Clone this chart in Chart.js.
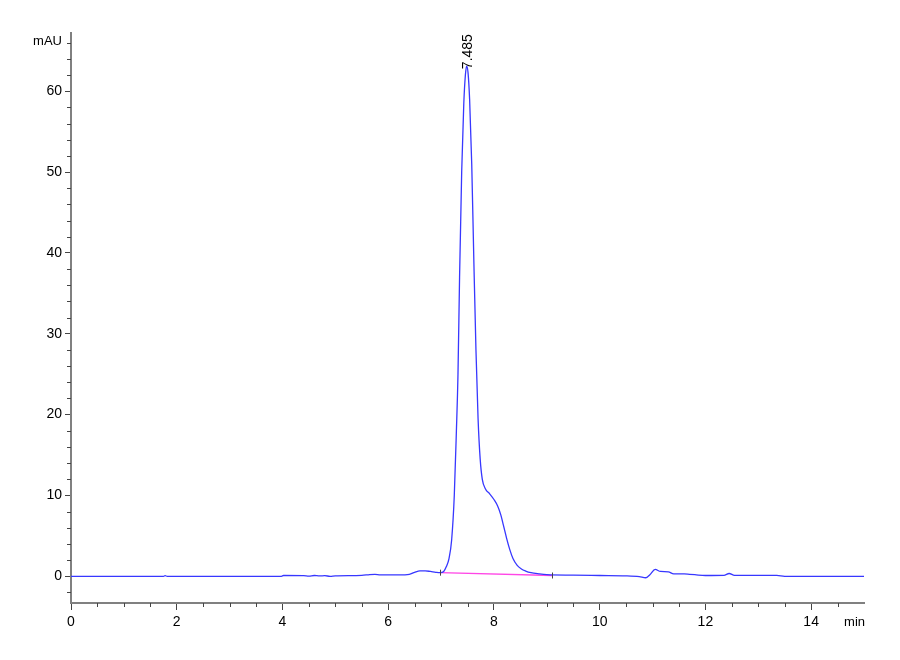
<!DOCTYPE html>
<html>
<head>
<meta charset="utf-8">
<script src="https://cdn.jsdelivr.net/npm/chart.js@4.4.1/dist/chart.umd.min.js"></script>
<style>
  html, body { margin: 0; padding: 0; background: #fff; }
  #wrap { width: 900px; height: 660px; }
</style>
</head>
<body>
<div id="wrap"><canvas id="chromatogram" width="900" height="660"></canvas></div>
<script>
// retention time (min) and signal (mAU)
const times = [
  0, 1.0, 1.75, 1.78, 1.82, 3.0, 3.98, 4.02, 4.4, 4.5, 4.6, 4.7, 4.8, 4.9, 5.0,
  5.5, 5.65, 5.75, 5.85, 6.2, 6.4, 6.5, 6.6, 6.7, 6.8, 6.9, 6.98, 7.05, 7.1, 7.15,
  7.2, 7.25, 7.29, 7.32, 7.35, 7.39, 7.43, 7.46, 7.485, 7.51, 7.54, 7.58, 7.62, 7.66,
  7.70, 7.74, 7.78, 7.84, 7.92, 8.0, 8.07, 8.13, 8.18, 8.24, 8.3, 8.36, 8.44, 8.52,
  8.6, 8.7, 8.85, 9.0, 9.5, 10.0, 10.5, 10.75, 10.87, 10.95, 11.05, 11.15, 11.3, 11.4,
  11.6, 11.7, 11.8, 12.0, 12.35, 12.45, 12.55, 13.0, 13.35, 13.5, 15.0
];
const signal = [
  0, 0, 0, 0.08, 0, 0, 0, 0.1, 0.08, 0.02, 0.1, 0.05, 0.08, 0.0, 0.06,
  0.12, 0.22, 0.25, 0.18, 0.18, 0.25, 0.5, 0.68, 0.68, 0.6, 0.5, 0.45, 0.6, 1.2, 2.2,
  4.5, 10, 18, 25, 37, 50, 58.5, 62, 63.1, 62.3, 59, 51, 39, 28,
  19.5, 14.5, 12, 10.8, 10.2, 9.5, 8.7, 7.6, 6.3, 4.7, 3.3, 2.2, 1.35, 0.9,
  0.65, 0.45, 0.3, 0.2, 0.15, 0.1, 0.05, -0.05, -0.18, 0.2, 0.85, 0.6, 0.55, 0.3,
  0.3, 0.25, 0.2, 0.1, 0.12, 0.35, 0.12, 0.12, 0.12, 0.0, 0.0
];

// integration baseline under the main peak
const baseTimes = [6.98, 9.1];
const baseValues = [0.45, 0.1];

// peak apex annotation
const peakTimes = [7.485];
const peakHeights = [63.1];
const peakLabels = ['7.485'];

const FONT = '"Liberation Sans Narrow", "Liberation Sans", Arial, sans-serif';

const toPoints = (xs, ys) => xs.map((x, i) => ({ x: x, y: ys[i] }));

// short ticks between the labelled ones, plus axis titles and peak label
const extras = {
  id: 'extras',
  afterDraw(chart) {
    const ctx = chart.ctx;
    const xs = chart.scales.x;
    const ys = chart.scales.y;
    const area = chart.chartArea;
    ctx.save();
    ctx.strokeStyle = '#444';
    ctx.lineWidth = 1;
    ctx.beginPath();
    for (let t = 0.5; t < 15; t += 0.5) {
      if (t % 2 === 0) continue;
      const px = Math.round(xs.getPixelForValue(t)) + 0.5;
      ctx.moveTo(px, area.bottom);
      ctx.lineTo(px, area.bottom + 4);
    }
    for (let v = -2; v <= 66; v += 2) {
      if (v % 10 === 0) continue;
      const py = Math.round(ys.getPixelForValue(v)) + 0.5;
      ctx.moveTo(area.left - 4, py);
      ctx.lineTo(area.left, py);
    }
    // baseline start / end markers
    baseTimes.forEach((t, i) => {
      const px = Math.round(xs.getPixelForValue(t)) + 0.5;
      const py = ys.getPixelForValue(baseValues[i]);
      ctx.moveTo(px, py - 3);
      ctx.lineTo(px, py + 3);
    });
    ctx.stroke();

    ctx.fillStyle = '#000';
    ctx.font = '13px ' + FONT;
    ctx.textBaseline = 'middle';
    ctx.textAlign = 'right';
    ctx.fillText('mAU', area.left - 9, 41);
    ctx.fillText('min', 865, 622);

    ctx.font = '14px ' + FONT;
    ctx.textAlign = 'left';
    peakTimes.forEach((t, i) => {
      const px = xs.getPixelForValue(t);
      const py = ys.getPixelForValue(peakHeights[i]);
      ctx.save();
      ctx.translate(px + 1, py + 3);
      ctx.rotate(-Math.PI / 2);
      ctx.fillText(peakLabels[i], 0, 0);
      ctx.restore();
    });
    ctx.restore();
  }
};

new Chart(document.getElementById('chromatogram'), {
  type: 'line',
  data: {
    datasets: [
      {
        label: 'signal',
        data: toPoints(times, signal),
        borderColor: 'rgb(55, 55, 255)',
        borderWidth: 1.3,
        pointRadius: 0,
        cubicInterpolationMode: 'monotone',
        fill: false
      },
      {
        label: 'baseline',
        data: toPoints(baseTimes, baseValues),
        borderColor: 'rgb(255, 70, 230)',
        borderWidth: 1.3,
        pointRadius: 0,
        fill: false
      }
    ]
  },
  options: {
    responsive: false,
    animation: false,
    layout: { padding: { top: 33, right: 36, left: 0, bottom: 0 } },
    plugins: {
      legend: { display: false },
      tooltip: { enabled: false }
    },
    scales: {
      x: {
        type: 'linear',
        min: 0,
        max: 15,
        afterFit(scale) { scale.height = 57; },
        border: { color: '#808080', width: 2 },
        grid: { drawOnChartArea: false, drawTicks: true, tickLength: 7, tickColor: '#444', tickWidth: 1 },
        ticks: {
          stepSize: 2,
          includeBounds: false,
          maxRotation: 0,
          padding: 4,
          color: '#000',
          font: { family: FONT, size: 14 }
        }
      },
      y: {
        type: 'linear',
        min: -3.3,
        max: 67.2,
        afterFit(scale) { scale.width = 71; },
        border: { color: '#808080', width: 2 },
        grid: { drawOnChartArea: false, drawTicks: true, tickLength: 6, tickColor: '#444', tickWidth: 1 },
        ticks: {
          stepSize: 10,
          includeBounds: false,
          padding: 3,
          color: '#000',
          font: { family: FONT, size: 14 }
        }
      }
    }
  },
  plugins: [extras]
});
</script>
</body>
</html>
